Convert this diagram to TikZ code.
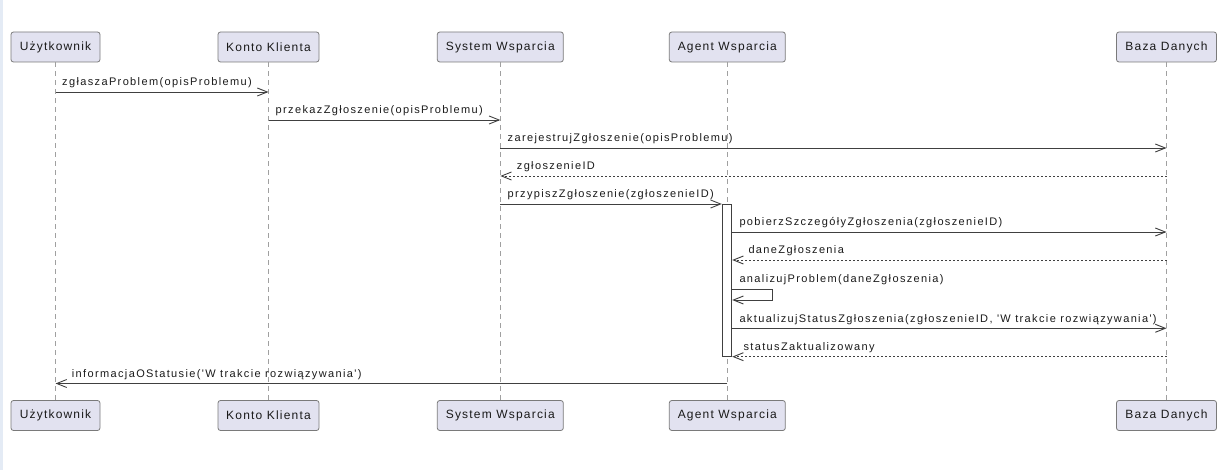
\documentclass[tikz,border=0pt]{standalone}
\usepackage{fontspec}
\setmainfont{Liberation Sans}
\newfontfamily\partfont[LetterSpace=10]{Liberation Sans}
\newfontfamily\msgfont[LetterSpace=12.4]{Liberation Sans}
\usetikzlibrary{arrows.meta}
\definecolor{partfill}{HTML}{E2E2F0}
\definecolor{partdraw}{HTML}{7A7A7A}
\definecolor{lifecol}{HTML}{A0A0A0}
\definecolor{msgcol}{HTML}{404040}
\definecolor{txtcol}{HTML}{1A1A1A}
\definecolor{stripcol}{HTML}{E4EBF5}
\tikzset{
  x=1pt, y=-1pt,
  part/.style={draw=partdraw, fill=partfill, line width=0.8pt, rounded corners=2.5pt,
    minimum height=30pt, inner sep=0pt, text=txtcol, font=\partfont\fontsize{12}{14}\selectfont},
  lifeline/.style={draw=lifecol, line width=0.9pt, dash pattern=on 5pt off 4pt},
  msg/.style={draw=msgcol, line width=0.9pt, -{Straight Barb[length=10pt,width=8pt]}},
  ret/.style={msg, dash pattern=on 2pt off 2pt},
  lbl/.style={anchor=base west, inner sep=0pt, text=txtcol, font=\msgfont\fontsize{11}{13}\selectfont},
  actbox/.style={draw=msgcol, fill=white, line width=0.9pt, inner sep=0pt}
}
\begin{document}
\begin{tikzpicture}
\useasboundingbox (0,0) rectangle (1232,470);
\fill[stripcol] (0,0) rectangle (2.5,470);
% participants top
\node[part, minimum width=89pt]  (u)  at (55.5,47)  {Użytkownik};
\node[part, minimum width=101pt] (k)  at (268.5,47) {Konto Klienta};
\node[part, minimum width=126pt] (s)  at (500.3,47) {System Wsparcia};
\node[part, minimum width=116pt] (a)  at (727.3,47) {Agent Wsparcia};
\node[part, minimum width=100pt] (b)  at (1166.5,47) {Baza Danych};
% participants bottom
\node[part, minimum width=89pt]  (u2) at (55.5,415.5)  {Użytkownik};
\node[part, minimum width=101pt] (k2) at (268.5,415.5) {Konto Klienta};
\node[part, minimum width=126pt] (s2) at (500.3,415.5) {System Wsparcia};
\node[part, minimum width=116pt] (a2) at (727.3,415.5) {Agent Wsparcia};
\node[part, minimum width=100pt] (b2) at (1166.5,415.5) {Baza Danych};
% lifelines
\draw[lifeline] (u) -- (u2);
\draw[lifeline] (k) -- (k2);
\draw[lifeline] (s) -- (s2);
\draw[lifeline] (a) -- (a2);
\draw[lifeline] (b) -- (b2);
% activation
\node[actbox, minimum width=9.5pt, minimum height=152.7pt] (act) at (727,280.35) {};
% message rows
\coordinate (m1) at (0,92);
\coordinate (m2) at (0,120);
\coordinate (m3) at (0,148);
\coordinate (m4) at (0,176);
\coordinate (m5) at (0,204);
\coordinate (m6) at (0,232);
\coordinate (m7) at (0,260);
\coordinate (m8) at (0,289);
\coordinate (m8b) at (0,300);
\coordinate (m9) at (0,328.3);
\coordinate (m10) at (0,356.7);
\coordinate (m11) at (0,383.5);
\coordinate (selfr) at (772.3,0);
% messages
\draw[msg] (u |- m1) -- (k |- m1);
\node[lbl] (l1) at (62,86) {zgłaszaProblem(opisProblemu)};
\draw[msg] (k |- m2) -- (s |- m2);
\node[lbl] (l2) at (275.5,114) {przekazZgłoszenie(opisProblemu)};
\draw[msg] (s |- m3) -- (b |- m3);
\node[lbl] (l3) at (507.5,142) {zarejestrujZgłoszenie(opisProblemu)};
\draw[ret] (b |- m4) -- (s |- m4);
\node[lbl] (l4) at (516.7,170) {zgłoszenieID};
\draw[msg] (s |- m5) -- (act.west |- m5);
\node[lbl] (l5) at (507.5,198) {przypiszZgłoszenie(zgłoszenieID)};
\draw[msg] (act.east |- m6) -- (b |- m6);
\node[lbl] (l6) at (739.3,226) {pobierzSzczegółyZgłoszenia(zgłoszenieID)};
\draw[ret] (b |- m7) -- (act.east |- m7);
\node[lbl] (l7) at (748.3,254) {daneZgłoszenia};
\draw[msg] (act.east |- m8) -- (selfr |- m8) -- (selfr |- m8b) -- (act.east |- m8b);
\node[lbl] (l8) at (739.3,283) {analizujProblem(daneZgłoszenia)};
\draw[msg] (act.east |- m9) -- (b |- m9);
\node[lbl] (l9) at (739.3,322.3) {aktualizujStatusZgłoszenia(zgłoszenieID, 'W trakcie rozwiązywania')};
\draw[ret] (b |- m10) -- (act.east |- m10);
\node[lbl] (l10) at (743.3,350.7) {statusZaktualizowany};
\draw[msg] (a |- m11) -- (u |- m11);
\node[lbl] (l11) at (71.7,377.5) {informacjaOStatusie('W trakcie rozwiązywania')};
\end{tikzpicture}
\end{document}
